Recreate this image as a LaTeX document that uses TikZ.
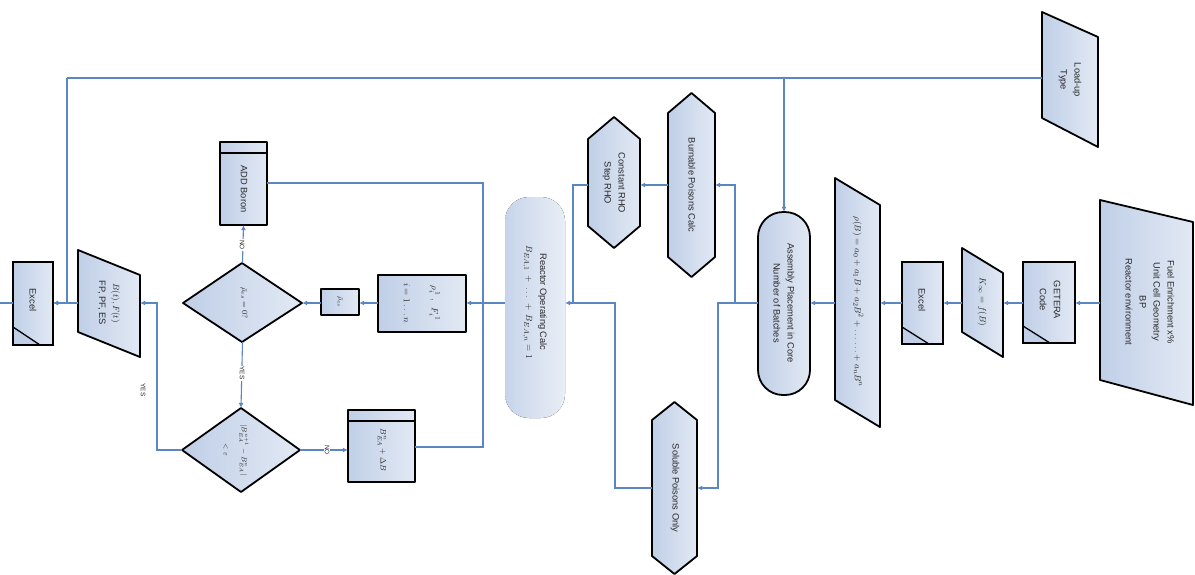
\documentclass[tikz,border=0pt]{standalone}
\usepackage{fontspec}
\setmainfont{Liberation Sans}
\usetikzlibrary{fit,arrows.meta}
\definecolor{lc}{HTML}{5B86C4}
\definecolor{fA}{HTML}{E2E9F4}
\definecolor{fB}{HTML}{C0CFE7}
\definecolor{tc}{HTML}{2A2A2A}
\tikzset{
 shp/.style={draw=black, line width=1.8pt, line join=round, left color=fB, right color=fA},
 soft/.style={draw=none, left color=fB!90, right color=fA!75},
 conn/.style={draw=lc, line width=1.1pt},
 arr/.style={conn, -{Latex[length=5pt,width=5pt]}},
 lbl/.style={rotate=-90, align=center, text=tc, inner sep=0pt, font=\fontsize{9.3}{14}\selectfont},
 sm/.style={rotate=-90, text=tc, inner sep=1pt, font=\fontsize{6.5}{7}\selectfont, fill=white},
 anchorbox/.style={inner sep=0pt, draw=none},
 thin/.style={draw=black, line width=1.3pt}
}
\newcommand\regbox[5]{\path (#2,#3) coordinate (#1-nw) (#4,#5) coordinate (#1-se); \node[anchorbox, fit=(#1-nw)(#1-se)] (#1) {};}
\begin{document}
\begin{tikzpicture}[x=1pt,y=-1pt]
\useasboundingbox[fill=white] (0,0) rectangle (1195,574);

% ---------- shapes ----------
% Fuel enrichment (data)
\draw[shp] (1100,200) -- (1193,222) -- (1193,405) -- (1100,380) -- cycle;
\regbox{fuel}{1100}{200}{1193}{405}
\node[lbl] (t-fuel) at (1150,302) {Fuel Enrichment x\%\\Unit Cell Geometry\\BP\\Reactor environment};

% GETERA code (document)
\draw[shp] (1023,262) rectangle (1075,343);
\fill[fB] (1023,326) -- (1050,343) -- (1023,343) -- cycle;
\draw[thin] (1023,326) -- (1050,343);
\draw[draw=black, line width=1.8pt] (1023,262) rectangle (1075,343);
\regbox{getera}{1023}{262}{1075}{343}
\node[lbl] (t-getera) at (1050,300) {GETERA\\Code};

% K_inf = f(B)
\draw[shp] (962,248) -- (1003,273) -- (1003,357) -- (962,332) -- cycle;
\regbox{kinf}{962}{248}{1003}{357}
\node[lbl] (t-kinf) at (982,302) {$K_\infty = f(B)$};

% Excel (right)
\draw[shp] (902,262) rectangle (943,344);
\fill[fB] (902,327) -- (929,344) -- (902,344) -- cycle;
\draw[thin] (902,327) -- (929,344);
\draw[draw=black, line width=1.8pt] (902,262) rectangle (943,344);
\regbox{excelB}{902}{262}{943}{344}
\node[lbl] (t-excelB) at (922,300) {Excel};

% rho(B)
\draw[shp] (835,178) -- (880,205) -- (880,427) -- (835,400) -- cycle;
\regbox{rhob}{835}{178}{880}{427}
\node[lbl] (t-rhob) at (858,302) {$\rho(B) = a_0 + a_1B + a_2B^2 + \ldots\ldots + a_nB^n$};

% Assembly placement (terminator)
\draw[shp, rounded corners=25pt] (758,212) rectangle (810,395);
\regbox{assy}{758}{212}{810}{395}
\node[lbl] (t-assy) at (784,303) {Assembly Placement in Core\\Number of Batches};

% Load-up type
\draw[shp] (1042,12) -- (1098,37) -- (1098,147) -- (1042,118) -- cycle;
\regbox{load}{1042}{12}{1098}{147}
\node[lbl] (t-load) at (1070,80) {Load-up\\Type};

% Burnable poisons calc
\draw[shp] (691.5,93) -- (715,113) -- (715,257) -- (691.5,277) -- (668,257) -- (668,113) -- cycle;
\regbox{burn}{668}{93}{715}{277}
\node[lbl] (t-burn) at (692,185) {Burnable Poisons Calc};

% Constant RHO
\draw[shp] (614,117) -- (640,139) -- (640,226) -- (614,248) -- (588,226) -- (588,139) -- cycle;
\regbox{const}{588}{117}{640}{248}
\node[lbl] (t-const) at (614,183) {Constant RHO\\Step RHO};

% Soluble poisons only
\draw[shp] (674.5,402) -- (697,420) -- (697,556) -- (674.5,574) -- (652,556) -- (652,420) -- cycle;
\regbox{sol}{652}{402}{697}{574}
\node[lbl] (t-sol) at (675,488) {Soluble Poisons Only};

% Reactor operating calc
\fill[soft, rounded corners=24pt] (505,197) rectangle (565,418);
\regbox{reac}{505}{192}{565}{414}
\node[lbl] (t-reac) at (535,302) {Reactor Operating Calc\\$B_{EA,1}\ +\ \ldots\ +\ B_{EA,n} = 1$};

% box i = 1..n
\draw[shp] (378,275) rectangle (466,332);
\regbox{boxi}{378}{275}{466}{332}
\node[lbl] (t-boxi) at (422,303) {$\rho_i^{\,1}\ ,\ \ F_i^{\,1}$\\[14pt]$i = 1 \ldots n$};

% small box rho_es
\draw[shp] (321,289) rectangle (359,315);
\regbox{rhoes}{321}{289}{359}{315}
\node[lbl, font=\fontsize{7}{8}\selectfont] (t-rhoes) at (340,302) {$\bar\rho_{es}$};

% diamond 1
\draw[shp] (183,303) -- (242,263) -- (302,303) -- (242,342) -- cycle;
\regbox{dA}{183}{263}{302}{342}
\node[lbl, font=\fontsize{8}{9}\selectfont] (t-dA) at (244,303) {$\bar\rho_{es} = 0?$};

% ADD Boron
\draw[shp] (220,142) rectangle (267,225);
\draw[thin] (220,153) -- (267,153);
\regbox{addb}{220}{142}{267}{225}
\node[lbl] (t-addb) at (244,189) {ADD Boron};

% diamond 2
\draw[shp] (182,450) -- (241,408) -- (300,450) -- (241,492) -- cycle;
\regbox{dB}{182}{408}{300}{492}
\node[lbl, font=\fontsize{7.5}{8}\selectfont] (t-dB) at (236,450) {$|B^{n+1}_{EA} - B^{n}_{EA}|$\\[10pt]$<\varepsilon$};

% B + dB box
\draw[shp] (348,410) rectangle (415,482);
\draw[thin] (348,421) -- (415,421);
\regbox{bnew}{348}{410}{415}{482}
\node[lbl, font=\fontsize{8}{9}\selectfont] (t-bnew) at (382,450) {$B^{n}_{EA} + \Delta B$};

% B(t), F(t)
\draw[shp] (78,250) -- (140,275) -- (140,357) -- (78,332) -- cycle;
\regbox{bft}{78}{250}{140}{357}
\node[lbl] (t-bft) at (109,303) {$B(t), F(t)$\\FP, PF, ES};

% Excel (left)
\draw[shp] (13,262) rectangle (53,345);
\fill[fB] (13,327) -- (40,345) -- (13,345) -- cycle;
\draw[thin] (13,327) -- (40,345);
\draw[draw=black, line width=1.8pt] (13,262) rectangle (53,345);
\regbox{excelA}{13}{262}{53}{345}
\node[lbl] (t-excelA) at (33,300) {Excel};

% ---------- junction coordinates ----------
\coordinate (my) at (0,303);
\coordinate (tl) at (67,78);
\coordinate (br) at (784,78);
\coordinate (j1) at (735,303);
\coordinate (j2) at (718,303);
\coordinate (j3) at (573,303);
\coordinate (j4) at (615,303);
\coordinate (j5) at (483,183);
\coordinate (j6) at (483,447);
\coordinate (j7) at (157,450);
\coordinate (edge) at (0,303);

% ---------- connectors ----------
\draw[arr] (fuel.west |- my) -- (getera.east |- my);
\draw[arr] (getera.west |- my) -- (kinf.east |- my);
\draw[arr] (kinf.west |- my) -- (excelB.east |- my);
\draw[arr] (excelB.west |- my) -- (rhob.east |- my);
\draw[arr] (rhob.west |- my) -- (assy.east |- my);

\draw[conn] (load.west |- tl) -- (tl);
\draw[arr] (tl) |- (excelA.east |- my);
\draw[arr] (br) -- (assy.north);

\draw[arr] (assy.west |- my) -- (j1) |- (burn.east);
\draw[arr] (j1) -- (j2) |- (sol.east);
\draw[arr] (burn.west) -- (burn.west -| const.east);
\draw[arr] (const.west |- burn.west) -| (j3) -- (reac.east |- my);
\draw[conn] (sol.west) -| (j4) -- (j3);

\draw[arr] (reac.west |- my) -- (boxi.east |- my);
\draw[arr] (boxi.west |- my) -- (rhoes.east |- my);
\draw[arr] (rhoes.west |- my) -- (dA.east |- my);
\draw[arr] (dA.north) -- (addb.south);
\draw[arr] (dA.south) -- (dB.north);
\draw[arr] (dB.east) -- (bnew.west |- dB.east);
\draw[conn] (addb.east |- j5) -- (j5) -- (j6) -- (bnew.east |- j6);
\draw[arr] (dB.west) -- (j7) |- (bft.east |- my);
\draw[arr] (bft.west |- my) -- (excelA.east |- my);
\draw[conn] (excelA.west |- my) -- (edge);

% ---------- connector labels ----------
\node[sm] (l-no1) at (242,245) {NO};
\node[sm] (l-yes1) at (242,373) {YES};
\node[sm] (l-no2) at (327,450) {NO};
\node[sm] (l-yes2) at (143,390) {YES};
\end{tikzpicture}
\end{document}
